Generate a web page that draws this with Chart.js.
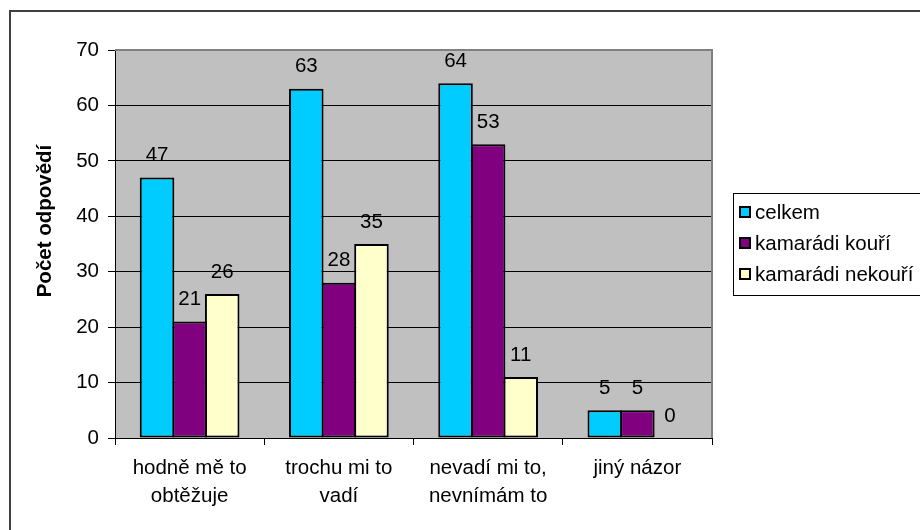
<!DOCTYPE html>
<html>
<head>
<meta charset="utf-8">
<script src="https://cdn.jsdelivr.net/npm/chart.js@4/dist/chart.umd.min.js"></script>
<style>
  html, body { margin: 0; padding: 0; background: #fff; }
  #wrap { width: 920px; height: 530px; position: relative; }
</style>
</head>
<body>
<div id="wrap"><canvas id="chart" width="920" height="530"></canvas></div>
<script>
// Categories and answer counts
const categories = [
  ['hodně mě to', 'obtěžuje'],
  ['trochu mi to', 'vadí'],
  ['nevadí mi to,', 'nevnímám to'],
  'jiný názor'
];
const celkem = [47, 63, 64, 5];
const kamaradiKouri = [21, 28, 53, 5];
const kamaradiNekouri = [26, 35, 11, 0];
const yTicks = [0, 10, 20, 30, 40, 50, 60, 70];
const yTitle = 'Počet odpovědí';

const FONT = 'Arial, "Liberation Sans", sans-serif';
const SIZE = 20.5;

// grey plot background, outer frame, plot border, axis title
const backdrop = {
  id: 'backdrop',
  beforeDraw(chart) {
    const { ctx, chartArea: a } = chart;
    ctx.save();
    ctx.fillStyle = '#fff';
    ctx.fillRect(0, 0, chart.width, chart.height);
    ctx.fillStyle = '#C0C0C0';
    ctx.fillRect(a.left, a.top, a.right - a.left, a.bottom - a.top);
    ctx.strokeStyle = '#404040';
    ctx.lineWidth = 2;
    ctx.beginPath();
    ctx.moveTo(10, chart.height);
    ctx.lineTo(10, 11);
    ctx.lineTo(chart.width, 11);
    ctx.stroke();

    ctx.translate(45, 221);
    ctx.rotate(-Math.PI / 2);
    ctx.font = 'bold ' + SIZE + 'px ' + FONT;
    ctx.fillStyle = '#000';
    ctx.textAlign = 'center';
    ctx.textBaseline = 'middle';
    ctx.fillText(yTitle, 0, 0);
    ctx.restore();
  },
  beforeDatasetsDraw(chart) {
    const { ctx, chartArea: a } = chart;
    ctx.save();
    ctx.strokeStyle = '#808080';
    ctx.lineWidth = 2;
    ctx.beginPath();
    ctx.moveTo(a.left, a.top);
    ctx.lineTo(a.right, a.top);
    ctx.lineTo(a.right, a.bottom);
    ctx.stroke();
    ctx.restore();
  }
};

// value labels above each bar
const valueLabels = {
  id: 'valueLabels',
  afterDatasetsDraw(chart) {
    const { ctx } = chart;
    ctx.save();
    ctx.font = SIZE + 'px ' + FONT;
    ctx.fillStyle = '#000';
    ctx.textAlign = 'center';
    ctx.textBaseline = 'middle';
    chart.data.datasets.forEach((ds, i) => {
      chart.getDatasetMeta(i).data.forEach((bar, j) => {
        ctx.fillText(String(ds.data[j]), bar.x, bar.y - 22);
      });
    });
    ctx.restore();
  }
};

// boxed legend on the right
const boxLegend = {
  id: 'boxLegend',
  afterDraw(chart) {
    const { ctx } = chart;
    const x = 733, y = 193, w = 200, h = 102;
    ctx.save();
    ctx.strokeStyle = '#000';
    ctx.lineWidth = 1;
    ctx.strokeRect(x + 0.5, y + 0.5, w, h);
    ctx.font = SIZE + 'px ' + FONT;
    ctx.textBaseline = 'middle';
    ctx.textAlign = 'left';
    chart.data.datasets.forEach((ds, i) => {
      const cy = y + 19 + i * 31;
      ctx.fillStyle = ds.backgroundColor;
      ctx.fillRect(740, cy - 5, 10, 10);
      ctx.lineWidth = 2;
      ctx.strokeRect(740, cy - 5, 10, 10);
      ctx.fillStyle = '#000';
      ctx.fillText(ds.label, 755, cy + 1);
    });
    ctx.restore();
  }
};

// bars slightly wider than their slot so neighbours share one border
const barStyle = {
  borderColor: '#000',
  borderWidth: 2,
  borderSkipped: false,
  categoryPercentage: 0.655,
  barPercentage: 1.06
};

new Chart(document.getElementById('chart'), {
  type: 'bar',
  data: {
    labels: categories,
    datasets: [
      Object.assign({ label: 'celkem', data: celkem, backgroundColor: '#00CCFF' }, barStyle),
      Object.assign({ label: 'kamarádi kouří', data: kamaradiKouri, backgroundColor: '#800080' }, barStyle),
      Object.assign({ label: 'kamarádi nekouří', data: kamaradiNekouri, backgroundColor: '#FFFFCC' }, barStyle)
    ]
  },
  options: {
    responsive: false,
    animation: false,
    events: [],
    layout: { padding: { left: 0, top: 50, right: 208, bottom: 0 } },
    plugins: {
      legend: { display: false },
      tooltip: { enabled: false }
    },
    scales: {
      x: {
        afterFit(scale) { scale.height = 92; },
        grid: {
          offset: true,
          drawOnChartArea: false,
          drawTicks: true,
          tickLength: 7,
          tickColor: '#000',
          tickWidth: 1
        },
        border: { color: '#000', width: 1 },
        ticks: {
          color: '#000',
          padding: 9,
          maxRotation: 0,
          autoSkip: false,
          font: { family: FONT, size: SIZE, lineHeight: 1.37 }
        }
      },
      y: {
        min: 0,
        max: 70,
        afterFit(scale) { scale.width = 115; },
        afterBuildTicks(scale) { scale.ticks = yTicks.map(v => ({ value: v })); },
        grid: {
          color: '#000',
          lineWidth: 1,
          drawTicks: true,
          tickLength: 7,
          tickColor: '#000'
        },
        border: { color: '#000', width: 1 },
        ticks: {
          color: '#000',
          padding: 9,
          font: { family: FONT, size: SIZE }
        }
      }
    }
  },
  plugins: [backdrop, valueLabels, boxLegend]
});
</script>
</body>
</html>
